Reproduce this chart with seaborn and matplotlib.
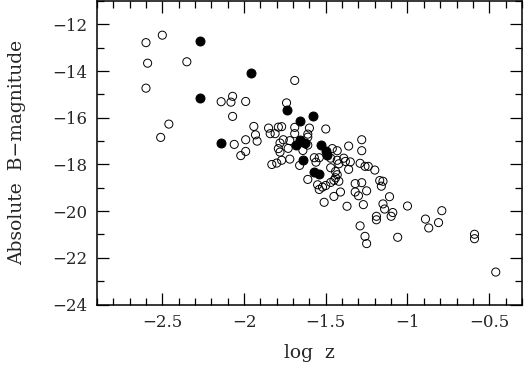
import matplotlib
matplotlib.use("Agg")
import matplotlib.pyplot as plt
import seaborn as sns
import numpy as np
from matplotlib.ticker import MultipleLocator

# Open circles
open_logz = [-2.60, -2.50, -2.59, -2.35, -2.60, -2.46, -2.51, -1.69, -2.07, -2.14,
             -2.08, -1.99, -2.07, -1.74, -1.94, -1.93, -1.99, -1.92, -2.06, -1.99,
             -2.02, -1.69, -1.60, -1.50, -1.85, -1.81, -1.79, -1.77, -1.84, -1.69,
             -1.61, -1.61, -1.72, -1.78, -1.76, -1.79, -1.78, -1.73, -1.64, -1.61,
             -1.54, -1.46, -1.43, -1.36, -1.28, -1.28, -1.83, -1.80, -1.77, -1.72,
             -1.66, -1.57, -1.56, -1.47, -1.43, -1.39, -1.38, -1.42, -1.35, -1.29,
             -1.26, -1.24, -1.20, -1.36, -1.47, -1.44, -1.61, -1.55, -1.54, -1.52,
             -1.50, -1.47, -1.45, -1.44, -1.43, -1.42, -1.32, -1.28, -1.32, -1.30,
             -1.25, -1.17, -1.15, -1.16, -1.11, -1.45, -1.41, -1.51, -1.37, -1.27,
             -1.15, -1.14, -1.19, -1.19, -1.09, -1.10, -1.29, -1.26, -1.25, -1.06,
             -1.00, -0.89, -0.87, -0.81, -0.79, -0.59, -0.59, -0.46]
open_mag = [-12.78, -12.46, -13.66, -13.60, -14.73, -16.27, -16.84, -14.40, -15.08, -15.31,
            -15.33, -15.30, -15.94, -15.36, -16.37, -16.73, -16.94, -17.00, -17.14, -17.44,
            -17.62, -16.41, -16.44, -16.48, -16.44, -16.68, -16.40, -16.38, -16.68, -16.68,
            -16.70, -16.83, -16.98, -17.08, -16.94, -17.32, -17.47, -17.31, -17.40, -17.17,
            -17.71, -17.32, -17.41, -17.21, -16.94, -17.41, -18.00, -17.94, -17.82, -17.77,
            -18.04, -17.71, -17.90, -17.73, -17.82, -17.73, -17.87, -17.97, -17.89, -17.95,
            -18.08, -18.08, -18.24, -18.21, -18.14, -18.30, -18.64, -18.87, -19.07, -18.97,
            -18.90, -18.77, -18.68, -18.57, -18.44, -18.72, -18.82, -18.78, -19.18, -19.34,
            -19.13, -18.69, -18.72, -18.93, -19.38, -19.37, -19.18, -19.62, -19.79, -19.72,
            -19.69, -19.91, -20.22, -20.37, -20.06, -20.22, -20.63, -21.08, -21.39, -21.12,
            -19.78, -20.34, -20.72, -20.49, -19.98, -20.99, -21.18, -22.61]

# Filled circles
filled_logz = [-2.27, -1.96, -2.27, -2.14, -1.74, -1.66, -1.58, -1.66, -1.63, -1.68,
               -1.53, -1.50, -1.49, -1.64, -1.57, -1.54]
filled_mag = [-12.69, -14.06, -15.16, -17.07, -15.68, -16.14, -15.91, -16.94, -17.07, -17.17,
              -17.17, -17.43, -17.61, -17.79, -18.34, -18.42]

x_ticks = [-2.5, -2.0, -1.5, -1.0, -0.5]
x_ticklabels = ["\u22122.5", "\u22122", "\u22121.5", "\u22121", "\u22120.5"]
y_ticks = [-24, -22, -20, -18, -16, -14, -12]

sns.set_style("ticks")
plt.rcParams["font.family"] = ["DejaVu Serif", "DejaVu Sans"]

fig = plt.figure(figsize=(5.24, 3.66), dpi=100)
ax = fig.add_axes([0.185, 0.168, 0.811, 0.829])

sns.scatterplot(x=open_logz, y=open_mag, ax=ax, marker="o", s=34,
                facecolor="none", edgecolor="black", linewidth=0.7, zorder=2)
sns.scatterplot(x=filled_logz, y=filled_mag, ax=ax, marker="o", s=42,
                color="black", edgecolor="black", linewidth=0.7, zorder=3)

ax.set_xlim(-2.9, -0.3)
ax.set_ylim(-24, -11)
ax.set_xticks(x_ticks)
ax.set_xticklabels(x_ticklabels)
ax.set_yticks(y_ticks)
ax.xaxis.set_minor_locator(MultipleLocator(0.1))
ax.yaxis.set_minor_locator(MultipleLocator(1))
ax.tick_params(which="both", direction="in", top=True, right=True,
               labelsize=12, width=0.9, color="black")
ax.tick_params(which="major", length=8.5, pad=7)
ax.tick_params(which="minor", length=5)
for sp in ax.spines.values():
    sp.set_linewidth(1.1)
    sp.set_color("black")

ax.set_xlabel("log  z", fontsize=13.5, labelpad=9)
ax.set_ylabel("Absolute  B\u2212magnitude", fontsize=13.5, labelpad=19)

fig.savefig("out.png", dpi=100)
